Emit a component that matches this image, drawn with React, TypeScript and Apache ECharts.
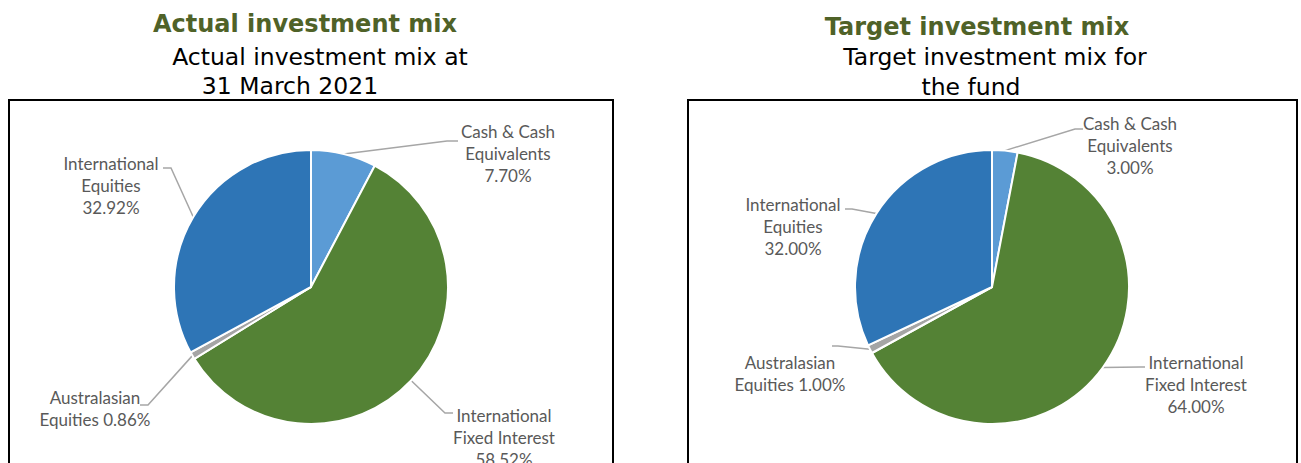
import React, { useEffect, useRef } from "react";
import * as echarts from "echarts";

const categories = [
  "Cash & Cash\nEquivalents",
  "International\nFixed Interest",
  "Australasian\nEquities",
  "International\nEquities",
];
const valueSeparators = ["\n", "\n", " ", "\n"];
const actualValues = [7.7, 58.52, 0.86, 32.92];
const targetValues = [3.0, 64.0, 1.0, 32.0];
const sliceColors = ["#5B9BD5", "#548235", "#A5A5A5", "#2E75B6"];

const mainTitles = ["Actual investment mix", "Target investment mix"];
const subTitles = [
  ["Actual investment mix at", "31 March 2021"],
  ["Target investment mix for", "the fund"],
];

// label placement (style/layout): [textCenterX, textTopY, elbowX, elbowY, endX, endY]
const labelPlacement = [
  [
    [508, 120, 447, 141, 458, 141],
    [504, 404, 445, 413, 453, 413],
    [95, 386, 148, 405, 140, 405],
    [111, 152, 171, 168, 163, 168],
  ],
  [
    [1130, 112, 1075, 129, 1083, 129],
    [1196, 351, 1140, 367, 1145, 367],
    [790, 351, 838, 346, 832, 346],
    [793, 193, 852, 209, 845, 209],
  ],
];

const LABEL_FONT = "Lato, 'Open Sans', sans-serif";
const TITLE_FONT = "'DejaVu Sans', Verdana, sans-serif";

export default function App() {
  const ref = useRef<HTMLDivElement>(null);
  useEffect(() => {
    document.body.style.margin = "0";
    if (!ref.current) return;
    const chart = echarts.init(ref.current, null, { renderer: "svg" });

    const makeSeries = (values: number[], idx: number, center: number[]) => ({
      type: "pie",
      center,
      radius: 137,
      startAngle: 90,
      clockwise: true,
      avoidLabelOverlap: false,
      silent: true,
      itemStyle: { borderColor: "#ffffff", borderWidth: 2 },
      label: {
        show: true,
        position: "outside",
        formatter: (p: any) =>
          p.name + valueSeparators[p.dataIndex] + p.value.toFixed(2) + "%",
        fontFamily: LABEL_FONT,
        fontSize: 17,
        lineHeight: 22,
        color: "#595959",
      },
      labelLine: {
        show: true,
        length: 20,
        length2: 10,
        lineStyle: { color: "#A6A6A6", width: 1.5 },
      },
      labelLayout: (params: any) => {
        const pl = labelPlacement[idx][params.dataIndex];
        const p0 = params.labelLinePoints
          ? params.labelLinePoints[0]
          : [pl[2], pl[3]];
        return {
          x: pl[0],
          y: pl[1],
          align: "center",
          verticalAlign: "top",
          labelLinePoints: [p0, [pl[2], pl[3]], [pl[4], pl[5]]],
        };
      },
      data: values.map((v, i) => ({
        name: categories[i],
        value: v,
        itemStyle: { color: sliceColors[i] },
      })),
    });

    const titleText = (text: string, x: number, y: number, bold: boolean, size: number, color: string) => ({
      type: "text",
      x,
      y,
      silent: true,
      style: {
        text,
        fontFamily: TITLE_FONT,
        fontSize: size,
        fontWeight: bold ? "bold" : "normal",
        fill: color,
        align: "center",
        verticalAlign: "middle",
      },
    });

    chart.setOption({
      animation: false,
      backgroundColor: "#ffffff",
      graphic: [
        {
          type: "rect",
          shape: { x: 9, y: 100, width: 604, height: 380 },
          style: { fill: "none", stroke: "#000000", lineWidth: 2 },
          silent: true,
        },
        {
          type: "rect",
          shape: { x: 688, y: 100, width: 609, height: 380 },
          style: { fill: "none", stroke: "#000000", lineWidth: 2 },
          silent: true,
        },
        titleText(mainTitles[0], 305, 24, true, 24, "#4F6228"),
        titleText(subTitles[0][0], 320, 57, false, 23.5, "#000000"),
        titleText(subTitles[0][1], 290, 86, false, 23.5, "#000000"),
        titleText(mainTitles[1], 977, 27, true, 24, "#4F6228"),
        titleText(subTitles[1][0], 995, 57, false, 23.5, "#000000"),
        titleText(subTitles[1][1], 971, 87, false, 23.5, "#000000"),
      ],
      series: [
        makeSeries(actualValues, 0, [311, 287]),
        makeSeries(targetValues, 1, [992, 287]),
      ],
    });
    return () => chart.dispose();
  }, []);
  return <div ref={ref} style={{ width: 1301, height: 463 }} />;
}
